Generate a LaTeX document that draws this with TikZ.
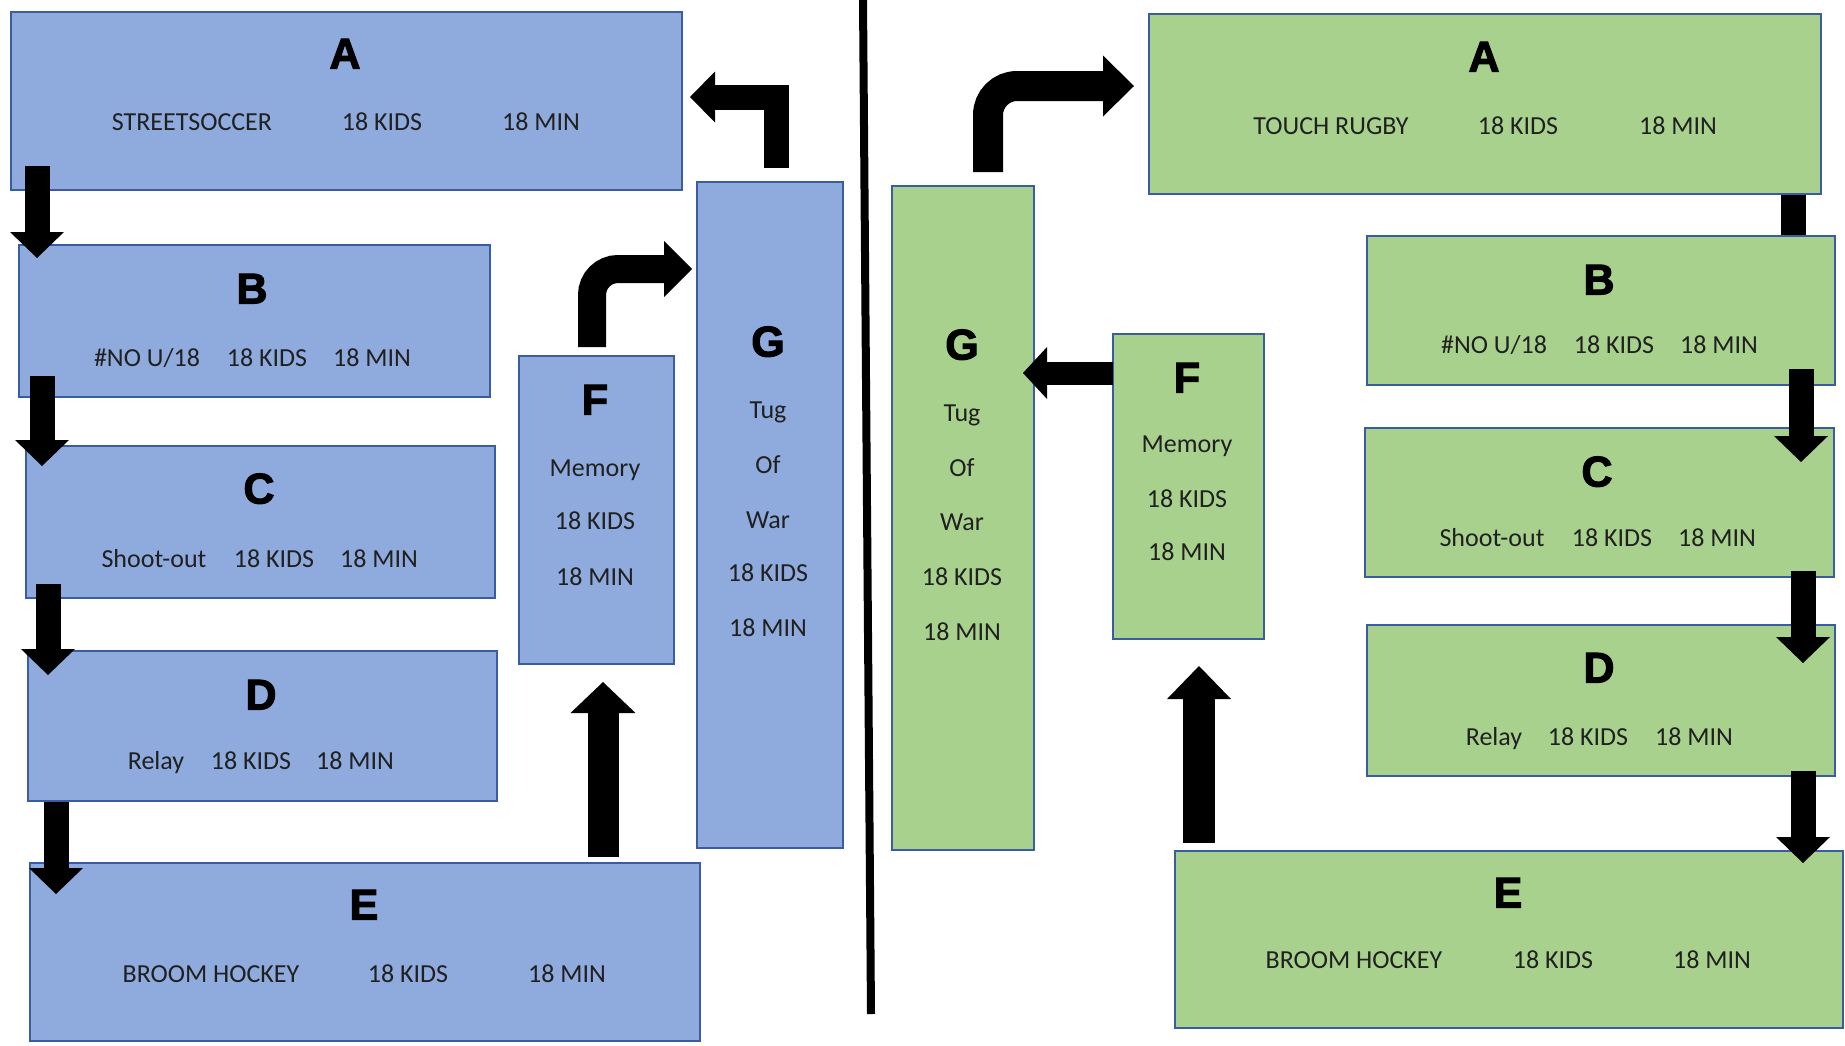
\documentclass[tikz,border=0pt]{standalone}
\usepackage{fontspec}
\usetikzlibrary{arrows.meta,calc}
\newfontfamily\rowfont{Carlito}
\newfontfamily\ttlfont{Liberation Sans}[UprightFont={* Bold}, FakeBold=2.5]
\definecolor{bluefill}{HTML}{8FAADC}
\definecolor{greenfill}{HTML}{A9D18E}
\definecolor{boxline}{HTML}{3A5CA2}
\definecolor{txtcol}{HTML}{202020}
\tikzset{
  box/.style={rectangle, draw=boxline, line width=2pt, inner sep=0pt, anchor=north west},
  bbox/.style={box, fill=bluefill},
  gbox/.style={box, fill=greenfill},
  ttl/.style={font=\ttlfont\fontsize{43}{46}\selectfont, text=black, inner sep=0pt, text height=31pt, text depth=0pt},
  rowt/.style={font=\rowfont\fontsize{26}{30}\selectfont, text=txtcol, inner sep=0pt, text height=16pt, text depth=0pt},
  blk/.style={draw=black, line width=#1, line cap=butt, line join=miter},
}
\begin{document}
\begin{tikzpicture}[x=1pt,y=-1pt]
\useasboundingbox (0,0) rectangle (1845,1045);
\fill[white] (0,0) rectangle (1845,1045);
% ---------- left boxes ----------
\node[bbox, minimum width=671pt, minimum height=178pt] (lA) at (10,11) {};
\node[bbox, minimum width=471pt, minimum height=152pt] (lB) at (18,244) {};
\node[bbox, minimum width=469pt, minimum height=152pt] (lC) at (25,445) {};
\node[bbox, minimum width=469pt, minimum height=150pt] (lD) at (27,650) {};
\node[bbox, minimum width=670pt, minimum height=178pt] (lE) at (29,862) {};
\node[bbox, minimum width=155pt, minimum height=308pt] (lF) at (518,355) {};
\node[bbox, minimum width=146pt, minimum height=666pt] (lG) at (696,181) {};
% ---------- right boxes ----------
\node[gbox, minimum width=672pt, minimum height=180pt] (rA) at (1148,13) {};
\node[gbox, minimum width=468pt, minimum height=149pt] (rB) at (1366,235) {};
\node[gbox, minimum width=469pt, minimum height=149pt] (rC) at (1364,427) {};
\node[gbox, minimum width=468pt, minimum height=151pt] (rD) at (1366,624) {};
\node[gbox, minimum width=668pt, minimum height=177pt] (rE) at (1174,850) {};
\node[gbox, minimum width=151pt, minimum height=305pt] (rF) at (1112,333) {};
\node[gbox, minimum width=142pt, minimum height=664pt] (rG) at (891,185) {};
% ---------- divider ----------
\coordinate (divtop) at (863,0);
\coordinate (divbot) at (871,1014);
\draw[line width=8pt] (divtop) -- (divbot);
% ---------- left texts ----------
\node[ttl] (lAt) at (345,53) {A};
\node[rowt] (lA1) at (192,122) {STREETSOCCER};
\node[rowt] (lA2) at (382,122) {18 KIDS};
\node[rowt] (lA3) at (541,122) {18 MIN};
\node[ttl] (lBt) at (252,288) {B};
\node[rowt] (lB1) at (147,358) {\#NO U/18};
\node[rowt] (lB2) at (267,358) {18 KIDS};
\node[rowt] (lB3) at (372,358) {18 MIN};
\node[ttl] (lCt) at (259,488) {C};
\node[rowt] (lC1) at (154,559) {Shoot-out};
\node[rowt] (lC2) at (274,559) {18 KIDS};
\node[rowt] (lC3) at (379,559) {18 MIN};
\node[ttl] (lDt) at (261,694) {D};
\node[rowt] (lD1) at (156,761) {Relay};
\node[rowt] (lD2) at (251,761) {18 KIDS};
\node[rowt] (lD3) at (355,761) {18 MIN};
\node[ttl] (lEt) at (364,904) {E};
\node[rowt] (lE1) at (211,974) {BROOM HOCKEY};
\node[rowt] (lE2) at (408,974) {18 KIDS};
\node[rowt] (lE3) at (567,974) {18 MIN};
\node[ttl] (lFt) at (595,399) {F};
\node[rowt] (lF1) at (595,468) {Memory};
\node[rowt] (lF2) at (595,521) {18 KIDS};
\node[rowt] (lF3) at (595,577) {18 MIN};
\node[ttl] (lGt) at (768,341) {G};
\node[rowt] (lG1) at (768,410) {Tug};
\node[rowt] (lG2) at (768,465) {Of};
\node[rowt] (lG3) at (768,520) {War};
\node[rowt] (lG4) at (768,573) {18 KIDS};
\node[rowt] (lG5) at (768,628) {18 MIN};
% ---------- right texts ----------
\node[ttl] (rAt) at (1484,56) {A};
\node[rowt] (rA1) at (1331,126) {TOUCH RUGBY};
\node[rowt] (rA2) at (1518,126) {18 KIDS};
\node[rowt] (rA3) at (1678,126) {18 MIN};
\node[ttl] (rBt) at (1599,279) {B};
\node[rowt] (rB1) at (1494,345) {\#NO U/18};
\node[rowt] (rB2) at (1614,345) {18 KIDS};
\node[rowt] (rB3) at (1719,345) {18 MIN};
\node[ttl] (rCt) at (1597,471) {C};
\node[rowt] (rC1) at (1492,538) {Shoot-out};
\node[rowt] (rC2) at (1612,538) {18 KIDS};
\node[rowt] (rC3) at (1717,538) {18 MIN};
\node[ttl] (rDt) at (1599,667) {D};
\node[rowt] (rD1) at (1494,737) {Relay};
\node[rowt] (rD2) at (1588,737) {18 KIDS};
\node[rowt] (rD3) at (1694,737) {18 MIN};
\node[ttl] (rEt) at (1508,892) {E};
\node[rowt] (rE1) at (1354,960) {BROOM HOCKEY};
\node[rowt] (rE2) at (1553,960) {18 KIDS};
\node[rowt] (rE3) at (1712,960) {18 MIN};
\node[ttl] (rFt) at (1187,377) {F};
\node[rowt] (rF1) at (1187,444) {Memory};
\node[rowt] (rF2) at (1187,499) {18 KIDS};
\node[rowt] (rF3) at (1187,552) {18 MIN};
\node[ttl] (rGt) at (962,344) {G};
\node[rowt] (rG1) at (962,413) {Tug};
\node[rowt] (rG2) at (962,468) {Of};
\node[rowt] (rG3) at (962,522) {War};
\node[rowt] (rG4) at (962,577) {18 KIDS};
\node[rowt] (rG5) at (962,632) {18 MIN};
% ---------- left arrows ----------
\draw[blk=25pt, -{Triangle[width=54pt,length=26pt,line width=0pt]}]
  ($(lA.south west)+(27,-25)$) -- ($(lB.north west)+(19,14)$);
\draw[blk=25pt, -{Triangle[width=54pt,length=26pt,line width=0pt]}]
  ($(lB.south west)+(24,-22)$) -- ($(lC.north west)+(17,21)$);
\draw[blk=25pt, -{Triangle[width=54pt,length=26pt,line width=0pt]}]
  ($(lC.south west)+(23,-15)$) -- ($(lD.north west)+(21,25)$);
\draw[blk=25pt, -{Triangle[width=54pt,length=26pt,line width=0pt]}]
  ($(lD.south west)+(29,0)$) -- ($(lE.north west)+(27,32)$);
\draw[blk=31pt, -{Triangle[width=65pt,length=31pt,line width=0pt]}]
  ($(lE.north west)+(574,-5)$) -- ($(lF.south west)+(85,17)$);
\draw[blk=28pt, rounded corners=26pt, -{Triangle[width=56pt,length=28pt,line width=0pt]}]
  ($(lF.north west)+(74,-8)$) |- ($(lG.north west)+(-4,88)$);
\draw[blk=25pt, -{Triangle[width=51pt,length=25pt,line width=0pt]}]
  ($(lG.north west)+(80,-13)$) |- ($(lA.north east)+(7,86)$);
% ---------- right arrows ----------
\draw[blk=25pt] ($(rA.south west)+(645,0)$) -- ($(rB.north west)+(427,0)$);
\draw[blk=25pt, -{Triangle[width=54pt,length=26pt,line width=0pt]}]
  ($(rB.south west)+(435,-17)$) -- ($(rC.north west)+(437,35)$);
\draw[blk=25pt, -{Triangle[width=54pt,length=26pt,line width=0pt]}]
  ($(rC.south west)+(439,-7)$) -- ($(rD.north west)+(437,39)$);
\draw[blk=25pt, -{Triangle[width=54pt,length=26pt,line width=0pt]}]
  ($(rD.south west)+(437,-6)$) -- ($(rE.north west)+(629,13)$);
\draw[blk=32pt, -{Triangle[width=64pt,length=33pt,line width=0pt]}]
  ($(rE.north west)+(25,-7)$) -- ($(rF.south west)+(87,26)$);
\draw[blk=23pt, -{Triangle[width=52pt,length=24pt,line width=0pt]}]
  ($(rF.north west)+(1,40)$) -- ($(rG.north east)+(-12,188)$);
\draw[blk=30pt, rounded corners=29pt, -{Triangle[width=61pt,length=31pt,line width=0pt]}]
  ($(rG.north west)+(97,-13)$) |- ($(rA.north west)+(-14,73)$);
\end{tikzpicture}
\end{document}
